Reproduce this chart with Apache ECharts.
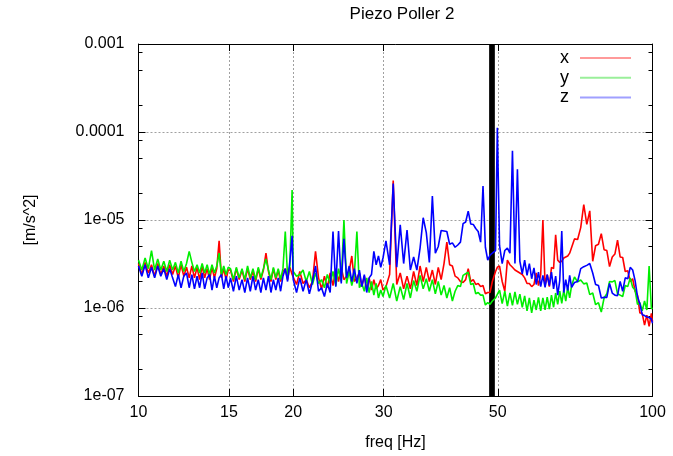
<!DOCTYPE html>
<html>
<head>
<meta charset="utf-8">
<script src="https://cdn.jsdelivr.net/npm/echarts@6/dist/echarts.min.js"></script>
<style>html,body{margin:0;padding:0;background:#fff}#c{width:673px;height:456px}</style>
</head>
<body>
<div id="c"></div>
<script>
// Values are in units of 1e-6 m/s^2
const UNIT = 1e-6;
const freq = [
 10.0,10.15,10.3,10.45,10.6,10.75,10.9,11.05,11.2,11.35,11.5,11.65,11.8,11.95,12.1,12.25,12.4,12.55,12.7,12.85,13.0,13.15,13.3,13.45,13.6,13.75,13.9,14.05,14.2,14.35,14.5,14.65,14.8,14.95,
 15.1,15.3,15.5,15.7,15.9,16.1,16.3,16.5,16.7,16.9,17.1,17.3,17.5,17.7,17.9,18.1,18.3,18.5,18.7,18.9,19.1,19.3,19.5,19.7,19.9,
 20.0,20.3,20.6,20.9,21.2,21.5,21.8,22.1,22.4,22.7,23.0,23.3,23.6,23.9,24.2,24.5,24.8,25.1,25.4,25.7,26.0,26.3,26.6,26.9,27.2,27.5,27.8,28.1,28.4,28.7,29.0,29.3,29.6,29.9,
 30.3,30.8,31.3,31.8,32.3,32.8,33.3,33.8,34.3,34.8,35.3,35.8,36.3,36.8,37.3,37.8,38.3,38.8,39.3,39.8,40.3,40.8,41.3,41.8,42.3,42.8,43.3,43.8,44.3,44.8,45.3,45.8,46.3,46.8,47.3,47.8,48.3,48.8,49.5,49.9,
 50.4,51.0,51.6,52.2,52.8,53.4,54.0,54.6,55.2,55.8,56.4,57.0,57.6,58.2,58.8,59.4,60.0,60.6,61.2,61.8,62.4,63.0,63.6,64.2,64.8,65.4,66.0,66.6,67.2,67.8,68.4,69.0,69.6,
 70.5,71.5,72.5,73.5,74.5,75.5,76.5,77.5,78.5,79.5,80.5,81.5,82.5,83.5,84.5,85.5,86.5,87.5,88.5,89.5,90.5,91.5,92.5,93.5,94.5,95.5,96.5,97.5,98.5,99.5,100
];
const xValues = [
 3.2,2.4,3.3,2.5,3.1,2.3,3.2,2.4,3.0,2.3,3.1,2.4,3.0,2.2,3.1,2.3,2.9,2.2,3.0,2.2,2.9,2.1,3.0,2.2,2.8,2.1,2.9,2.2,2.8,5.8,2.2,2.8,2.1,2.7,
 2.7,2.0,2.8,2.1,2.7,2.0,2.8,2.1,2.6,2.0,2.8,2.1,2.7,4.2,2.6,2.0,2.8,2.1,2.7,2.0,2.6,2.8,2.1,2.9,2.4,
 2.5,1.85,2.6,1.9,2.1,1.7,2.0,4.4,2.2,1.65,2.3,1.7,2.5,1.8,2.8,2.0,2.9,2.1,2.3,2.6,3.9,2.0,2.2,2.5,1.75,2.3,1.65,2.2,1.6,2.1,1.65,1.8,2.1,1.6,
 1.75,2.4,28,1.85,2.5,1.65,2.3,1.65,2.6,1.8,3.0,2.0,2.9,2.0,2.7,1.85,2.9,2.1,3.2,5.6,3.1,3.0,2.3,2.2,2.0,1.95,2.1,2.8,2.0,2.1,1.85,1.9,1.75,1.8,1.45,1.5,1.5,2.0,2.6,2.9,
 3.0,2.0,1.55,3.5,3.1,2.9,2.7,2.6,2.5,2.4,2.2,1.9,1.9,1.75,1.85,2.5,1.8,2.4,10.0,1.8,2.4,1.75,2.9,2.8,6.8,3.5,3.3,3.4,3.7,3.8,3.9,4.2,4.4,
 6.1,6.0,8.2,15.0,8.9,12.7,3.4,5.1,5.3,7.0,4.6,4.5,2.95,3.8,4.1,5.9,3.8,3.75,2.6,2.65,2.0,2.15,1.55,1.4,0.88,0.87,0.64,0.83,0.62,0.87,0.7
];
const yValues = [
 3.5,2.7,3.7,2.8,4.5,2.7,3.6,2.7,3.4,2.6,3.5,2.7,3.3,2.5,3.4,2.6,3.2,4.4,3.3,2.6,3.1,2.5,3.2,2.5,3.1,2.4,3.1,2.5,3.0,4.2,2.4,3.0,2.4,2.9,
 2.8,2.1,2.9,2.2,2.8,2.1,3.0,2.2,2.8,2.1,2.9,2.2,2.8,3.6,2.7,2.1,2.9,2.2,2.8,2.1,2.8,7.4,2.3,3.0,21.9,
 2.6,2.3,2.4,2.7,2.0,2.6,1.85,2.5,1.9,2.1,1.7,2.4,1.9,2.6,1.8,2.8,2.0,10.0,1.9,2.6,1.8,2.4,7.4,1.7,1.9,1.55,2.2,1.5,2.0,1.4,1.9,1.3,1.6,1.35,
 1.8,1.3,1.9,1.2,1.75,1.25,1.9,1.3,2.05,1.55,2.35,1.65,2.15,1.55,2.1,1.45,2.0,1.4,1.8,1.3,1.7,1.2,1.55,1.8,1.75,2.35,2.45,2.55,1.85,1.9,1.45,1.5,1.4,1.4,1.08,1.15,1.1,1.2,1.3,1.35,
 1.6,1.12,1.55,1.05,1.48,1.07,1.52,1.1,1.44,1.02,1.37,0.93,1.3,0.88,1.23,0.95,1.32,0.93,1.3,0.95,1.33,0.97,1.4,1.02,1.48,1.1,1.56,1.13,1.6,1.2,1.72,1.3,1.8,
 2.25,1.98,2.08,1.88,1.92,1.42,1.48,1.09,1.15,0.9,1.3,1.45,2.0,1.98,2.05,1.45,1.4,1.35,1.8,1.75,2.2,1.72,1.6,1.1,1.15,0.93,1.2,0.95,3.0,0.98,1.0
];
const zValues = [
 3.0,2.3,3.1,2.2,2.9,2.2,3.0,2.3,2.8,2.1,2.8,2.2,1.75,2.4,1.7,2.3,2.5,1.7,2.4,1.65,2.3,1.7,2.5,1.65,2.2,2.4,1.6,2.3,1.7,2.2,2.4,1.65,2.3,1.7,
 2.2,1.55,2.3,1.6,2.1,1.5,2.2,1.55,2.3,1.6,2.1,1.5,2.2,1.6,2.3,1.5,2.1,1.6,2.2,1.55,2.3,2.8,2.0,3.4,6.6,
 2.1,1.5,2.2,1.55,2.1,1.45,2.0,3.0,1.55,1.7,1.35,1.9,1.5,7.4,1.75,7.5,1.9,6.1,2.2,3.0,2.0,2.8,1.9,2.7,1.75,2.4,1.5,2.2,2.4,4.4,3.1,3.9,2.9,3.7,
 5.8,3.1,26,2.9,8.8,3.2,7.7,2.7,3.8,2.7,4.8,10.6,7.2,3.3,18.7,4.2,5.0,7.6,7.5,7.4,5.3,5.5,4.9,5.2,5.6,9.1,9.5,12.6,9.0,8.9,8.0,7.4,5.6,24.3,4.9,3.5,4.0,4.2,4.5,112,
 5.1,3.2,4.5,4.8,4.2,61,3.2,37.8,3.4,2.45,3.5,2.35,3.2,2.15,2.85,1.85,2.55,1.75,2.35,1.72,2.4,1.8,2.55,1.65,2.3,1.4,2.05,7.5,1.5,2.1,1.58,2.35,1.72,
 1.95,2.0,2.8,2.95,3.05,3.2,2.5,1.85,1.8,1.3,1.32,1.32,1.9,1.48,1.4,1.38,2.0,1.55,2.2,2.15,2.9,2.7,2.05,1.35,1.12,0.84,0.82,0.79,0.78,0.75,0.67
];
const seriesNames = ['x', 'y', 'z'];
const xTicks = [10, 15, 20, 30, 50, 100];
const yMajorTicks = [1e-7, 1e-6, 1e-5, 1e-4, 1e-3];
const yTickLabels = ['1e-07', '1e-06', '1e-05', '0.0001', '0.001'];
const yMinorTicks = [2e-7,5e-7,8e-7,2e-6,5e-6,8e-6,2e-5,5e-5,8e-5,2e-4,5e-4,8e-4];
const blackBand = [48.1, 49.35];

const FONT = 'Liberation Sans, Arial, Helvetica, sans-serif';
const pairs = vals => freq.map((f, i) => [f, vals[i] * UNIT]);
const yLabel = v => {
  const i = yMajorTicks.findIndex(t => Math.abs(Math.log10(t) - Math.log10(v)) < 1e-6);
  return i >= 0 ? yTickLabels[i] : '';
};
const xAxisBase = {
  type: 'log', logBase: 10, min: 10, max: 100,
  axisLine: { show: true, onZero: false, lineStyle: { color: '#000', width: 1 } },
  axisTick: { show: true, inside: true, length: 7, customValues: xTicks, lineStyle: { color: '#000' } },
  axisLabel: { show: false, customValues: xTicks },
  splitLine: { show: false },
  minorTick: { show: false }
};
const yAxisBase = {
  type: 'log', logBase: 10, min: 1e-7, max: 1e-3,
  axisLine: { show: true, onZero: false, lineStyle: { color: '#000', width: 1 } },
  axisTick: { show: true, inside: true, length: 7, lineStyle: { color: '#000' } },
  axisLabel: { show: false },
  splitLine: { show: false }
};
const legendColors = ['#ff9a9a', '#9aef9a', '#a0a0ff'];
const chart = echarts.init(document.getElementById('c'), null, { renderer: 'canvas' });
chart.setOption({
  animation: false,
  backgroundColor: '#fff',
  title: {
    text: 'Piezo Poller 2', left: 397, top: 1, textAlign: 'center',
    textStyle: { fontFamily: FONT, fontSize: 17, fontWeight: 'normal', color: '#000' }
  },
  legend: {
    orient: 'vertical', right: 37, top: 44, align: 'right',
    itemWidth: 51, itemHeight: 2, itemGap: 1.7, icon: 'rect',
    textStyle: { fontFamily: FONT, fontSize: 18, color: '#000', padding: [0, 6, 0, 0], lineHeight: 17 },
    data: seriesNames.map((n, i) => ({ name: n, icon: 'rect', itemStyle: { color: legendColors[i] } }))
  },
  grid: { left: 138.5, right: 20.5, top: 44, bottom: 58, containLabel: false },
  xAxis: [
    Object.assign({}, xAxisBase, {
      position: 'bottom',
      axisLabel: { show: true, customValues: xTicks, fontFamily: FONT, fontSize: 16, color: '#000', margin: 9,
        formatter: v => String(Math.round(v)) },
      splitLine: { show: true, lineStyle: { color: '#a0a0a0', type: [2, 2], width: 1 } },
      name: 'freq [Hz]', nameLocation: 'middle', nameGap: 39,
      nameTextStyle: { fontFamily: FONT, fontSize: 16, color: '#000' }
    }),
    Object.assign({}, xAxisBase, { position: 'top' })
  ],
  yAxis: [
    Object.assign({}, yAxisBase, {
      position: 'left',
      axisTick: { show: true, inside: true, length: 7, customValues: yMajorTicks, lineStyle: { color: '#000' } },
      axisLabel: { show: true, customValues: yMajorTicks, fontFamily: FONT, fontSize: 16, color: '#000', margin: 14, formatter: yLabel },
      splitLine: { show: true, lineStyle: { color: '#a0a0a0', type: [2, 2], width: 1 } },
      name: '[m/s^2]', nameLocation: 'middle', nameGap: 100, nameRotate: 90,
      nameTextStyle: { fontFamily: FONT, fontSize: 16, color: '#000' }
    }),
    Object.assign({}, yAxisBase, { position: 'right',
      axisTick: { show: true, inside: true, length: 7, customValues: yMajorTicks, lineStyle: { color: '#000' } } }),
    Object.assign({}, yAxisBase, { position: 'left', axisLine: { show: false },
      axisTick: { show: true, inside: true, length: 4, customValues: yMinorTicks, lineStyle: { color: '#000' } } }),
    Object.assign({}, yAxisBase, { position: 'right', axisLine: { show: false },
      axisTick: { show: true, inside: true, length: 4, customValues: yMinorTicks, lineStyle: { color: '#000' } } })
  ],
  series: [
    { name: 'x', type: 'line', data: pairs(xValues), symbol: 'none', color: '#ff0000',
      lineStyle: { width: 1.6, color: '#ff0000' }, z: 2,
      markArea: { silent: true, itemStyle: { color: '#000', opacity: 1 },
        data: [[{ xAxis: blackBand[0] }, { xAxis: blackBand[1] }]] } },
    { name: 'y', type: 'line', data: pairs(yValues), symbol: 'none', color: '#00ee00',
      lineStyle: { width: 1.6, color: '#00ee00' }, z: 3 },
    { name: 'z', type: 'line', data: pairs(zValues), symbol: 'none', color: '#0000ff',
      lineStyle: { width: 1.6, color: '#0000ff' }, z: 4 }
  ]
});
</script>
</body>
</html>
